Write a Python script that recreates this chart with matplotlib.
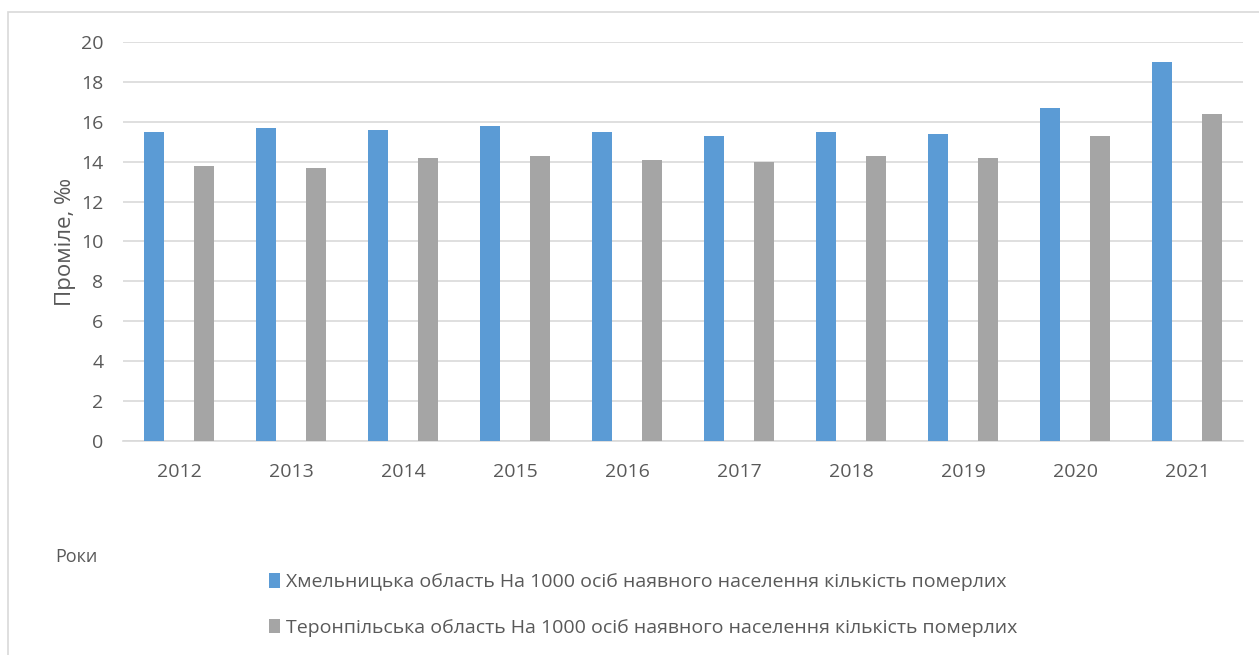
import numpy as np
import matplotlib
matplotlib.use("Agg")
from matplotlib import pyplot as plt
from matplotlib.patches import Rectangle

plt.rcParams['font.family'] = ['Open Sans', 'DejaVu Sans']

years = ['2012', '2013', '2014', '2015', '2016', '2017', '2018', '2019', '2020', '2021']
khmelnytskyi = [15.5, 15.7, 15.6, 15.8, 15.5, 15.3, 15.5, 15.4, 16.7, 19.0]
ternopil = [13.8, 13.7, 14.2, 14.3, 14.1, 14.0, 14.3, 14.2, 15.3, 16.4]
label_kh = 'Хмельницька область На 1000 осіб наявного населення кількість померлих'
label_te = 'Теронпільська область На 1000 осіб наявного населення кількість померлих'

text_col = '#595959'
grid_col = '#D9D9D9'

fig = plt.figure(figsize=(12.59, 6.55), dpi=100)
fig.patches.append(Rectangle((8/1259, -0.1), 1.2, 1 - 12/655 + 0.1,
                             transform=fig.transFigure, fill=False,
                             edgecolor=grid_col, linewidth=1.2))

ax = fig.add_axes([123/1259, 1 - 441/655, (1243-123)/1259, (441-42)/655])
x = np.arange(len(years))
w = 0.18
b1 = ax.bar(x - 0.22, khmelnytskyi, w, color='#5B9BD5', label=label_kh, zorder=3)
b2 = ax.bar(x + 0.22, ternopil, w, color='#A5A5A5', label=label_te, zorder=3)

ax.set_xlim(-0.5, len(years) - 0.5)
ax.set_ylim(0, 20)
ax.set_yticks(range(0, 21, 2))
ax.set_xticks(x)
ax.set_xticklabels(years)
ax.grid(axis='y', color=grid_col, linewidth=1.2, zorder=0)
for s in ['top', 'right', 'left']:
    ax.spines[s].set_visible(False)
ax.spines['bottom'].set_color(grid_col)
ax.spines['bottom'].set_linewidth(1.2)
ax.tick_params(axis='both', length=0, labelsize=14, colors=text_col)
ax.tick_params(axis='y', pad=14)
ax.tick_params(axis='x', pad=16)
ax.set_ylabel('Проміле, ‰', fontsize=16, color=text_col, labelpad=4)

fig.text(55/1259, 1 - 557/655, 'Роки', fontsize=13, color=text_col, va='center')

fig.legend(handles=[b1, b2], loc='center left',
           bbox_to_anchor=(251/1259, 1 - 605/655), frameon=False,
           fontsize=14, labelcolor=text_col, handlelength=0.6, handleheight=0.8,
           handletextpad=0.3, labelspacing=1.4)

fig.savefig('out.png', dpi=100)
